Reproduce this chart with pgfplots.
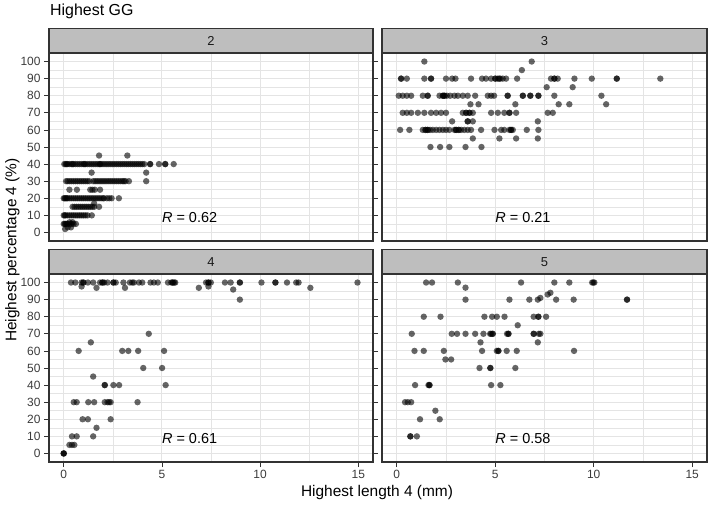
\documentclass[border=0pt]{standalone}
\usepackage{pgfplots}
\pgfplotsset{compat=1.18}
\usepackage{fontspec}
\setmainfont{Liberation Sans}
\definecolor{stripgray}{RGB}{190,190,190}
\definecolor{bordergray}{RGB}{51,51,51}
\definecolor{gridgray}{RGB}{228,228,228}
\definecolor{ticktext}{RGB}{60,60,60}
\pgfplotsset{
 panel/.style={
  scale only axis, width=324bp, height=188bp,
  xmin=-0.75, xmax=15.75, ymin=-5, ymax=105,
  xtick={0,5,10,15}, ytick={0,10,...,100},
  minor xtick={2.5,7.5,12.5}, minor ytick={5,15,...,95},
  grid=both,
  major grid style={draw=gridgray, line width=0.9bp},
  minor grid style={draw=gridgray, line width=0.5bp},
  axis line style={draw=bordergray, line width=1.1bp},
  tick align=outside, major tick length=5bp, minor tick length=0pt,
  tick style={draw=bordergray, line width=0.8bp},
  ticklabel style={font=\fontsize{12}{13}\selectfont, text=ticktext},
  /pgf/number format/assume math mode=true,
  clip=false,
 },
 pts/.style={only marks, mark=*, mark size=3.2bp, draw=none, fill=black, mark options={draw=none, draw opacity=0, fill=black, fill opacity=0.6}},
 nox/.style={xticklabels={}, xtick style={draw=none}},
 noy/.style={yticklabels={}, ytick style={draw=none}},
}
\newcommand{\strip}[1]{%
  \draw[fill=stripgray, draw=bordergray, line width=1.1bp] (rel axis cs:0,1) rectangle ([yshift=24.5bp]rel axis cs:1,1);
  \node[font=\fontsize{13}{14}\selectfont, text=black!90] at ([yshift=12.25bp]rel axis cs:0.5,1) {#1};
}
\newcommand{\rlab}[1]{\node[anchor=west, inner sep=0pt, font=\fontsize{14.5}{16}\selectfont] at (axis cs:5,9) {\textit{R} = #1};}
\begin{document}
\begin{tikzpicture}
\useasboundingbox (0,0) rectangle (709bp,505bp);
% ---- panel 2 ----
\begin{axis}[panel, nox, at={(49bp,264bp)}, anchor=south west]
\addplot[pts] coordinates {
(1.8,45) (3.24,45)
(0.03,40) (0.1,40) (0.15,40) (0.2,40) (0.3,40) (0.4,40) (0.45,40) (0.5,40) (0.6,40) (0.7,40) (0.8,40) (0.9,40) (1.0,40) (1.05,40) (1.1,40) (1.2,40) (1.3,40) (1.4,40) (1.5,40) (1.6,40) (1.7,40) (1.8,40) (1.85,40) (1.9,40) (2.0,40) (2.1,40) (2.2,40) (2.3,40) (2.4,40) (2.5,40) (2.6,40) (2.7,40) (2.8,40) (2.9,40) (3.0,40) (3.1,40) (3.2,40) (3.3,40) (3.4,40) (3.5,40) (3.6,40) (3.7,40) (3.8,40) (3.9,40) (4.0,40) (4.1,40) (4.4,40) (4.4,40) (4.85,40) (5.17,40) (5.17,40) (5.6,40)
(1.42,35) (4.2,35)
(0.12,30) (0.2,30) (0.3,30) (0.4,30) (0.5,30) (0.6,30) (0.7,30) (0.8,30) (0.9,30) (1.0,30) (1.1,30) (1.2,30) (1.3,30) (1.5,30) (1.6,30) (1.7,30) (1.8,30) (1.9,30) (2.0,30) (2.1,30) (2.2,30) (2.3,30) (2.4,30) (2.5,30) (2.6,30) (2.7,30) (2.8,30) (2.9,30) (3.0,30) (3.07,30) (3.15,30) (3.32,30) (4.2,30)
(0.29,25) (0.67,25) (1.35,25) (1.46,25) (1.58,25) (1.85,25)
(0,20) (0.05,20) (0.1,20) (0.15,20) (0.2,20) (0.3,20) (0.4,20) (0.5,20) (0.6,20) (0.7,20) (0.8,20) (0.9,20) (1.0,20) (1.1,20) (1.2,20) (1.3,20) (1.4,20) (1.5,20) (1.6,20) (1.7,20) (1.8,20) (1.9,20) (2.0,20) (2.05,20) (2.2,20) (2.32,20) (2.44,20) (2.81,20)
(1.55,17)
(0.45,15) (0.55,15) (0.65,15) (0.75,15) (0.85,15) (0.95,15) (1.05,15) (1.15,15) (1.25,15) (1.35,15) (1.45,15) (1.55,15) (1.8,15)
(0,10) (0.05,10) (0.1,10) (0.2,10) (0.3,10) (0.4,10) (0.5,10) (0.6,10) (0.7,10) (0.8,10) (0.9,10) (1.0,10) (1.1,10) (1.21,10) (1.43,10)
(0,5) (0.05,5) (0.1,5) (0.15,5) (0.2,5) (0.3,5) (0.4,5) (0.5,5) (0.62,5) (0.3,6) (0.45,6)
(0.07,2) (0.2,3) (0.37,3)
};
\strip{2}
\rlab{0.62}
\end{axis}
% ---- panel 3 ----
\begin{axis}[panel, nox, noy, width=325bp, at={(382bp,264bp)}, anchor=south west]
\addplot[pts] coordinates {
(1.4,100) (6.85,100) (6.35,95)
(0.22,90) (0.22,90) (0.51,90) (1.40,90) (1.74,90) (1.74,90) (2.50,90) (2.81,90) (2.98,90) (3.77,90) (4.33,90) (4.53,90) (4.79,90) (5.0,90) (5.0,90) (5.13,90) (5.2,90) (5.25,90) (5.38,90) (5.55,90) (6.11,90) (7.83,90) (8.0,90) (8.0,90) (8.17,90) (9.02,90) (9.9,90) (11.17,90) (11.17,90) (13.38,90)
(7.61,85) (8.93,85)
(0.1,80) (0.3,80) (0.51,80) (0.73,80) (1.32,80) (1.57,80) (1.57,80) (2.17,80) (2.34,80) (2.34,80) (2.42,80) (2.42,80) (2.54,80) (2.71,80) (2.93,80) (3.1,80) (3.35,80) (3.6,80) (3.98,80) (4.62,80) (4.79,80) (4.94,80) (5.63,80) (5.63,80) (6.4,80) (6.4,80) (6.78,80) (6.78,80) (7.19,80) (7.19,80) (8.0,80) (10.39,80)
(3.74,75) (4.15,75) (6.02,75) (8.22,75) (8.76,75) (10.63,75)
(0.3,70) (0.51,70) (0.73,70) (1.07,70) (1.4,70) (1.74,70) (2.0,70) (2.25,70) (2.5,70) (3.35,70) (3.52,70) (3.52,70) (3.69,70) (3.69,70) (3.86,70) (4.79,70) (5.13,70) (5.46,70) (5.72,70) (5.72,70) (6.06,70) (7.66,70) (7.92,70)
(2.81,65) (3.6,65) (3.6,65) (3.86,65) (7.16,65)
(0.17,60) (0.64,60) (1.32,60) (1.46,60) (1.46,60) (1.57,60) (1.57,60) (1.69,60) (1.83,60) (2.0,60) (2.17,60) (2.34,60) (2.5,60) (2.67,60) (2.93,60) (3.01,60) (3.01,60) (3.15,60) (3.15,60) (3.27,60) (3.43,60) (3.6,60) (3.77,60) (4.28,60) (4.96,60) (5.3,60) (5.46,60) (5.72,60) (5.8,60) (5.8,60) (5.89,60) (6.6,60) (7.19,60)
(3.86,55) (5.21,55) (6.06,55) (7.16,55)
(1.71,50) (2.2,50) (2.67,50) (3.49,50) (4.3,50)
};
\strip{3}
\rlab{0.21}
\end{axis}
% ---- panel 4 ----
\begin{axis}[panel, at={(49bp,43bp)}, anchor=south west]
\addplot[pts] coordinates {
(0.37,100) (0.59,100) (0.91,100) (1.0,100) (1.0,100) (1.23,100) (1.5,100) (1.85,100) (1.97,100) (1.97,100) (2.06,100) (2.23,100) (2.53,100) (2.53,100) (2.65,100) (3.04,100) (3.37,100) (3.49,100) (3.57,100) (3.83,100) (4.0,100) (4.42,100) (4.59,100) (4.79,100) (5.31,100) (5.48,100) (5.55,100) (5.55,100) (5.63,100) (5.68,100) (7.25,100) (7.37,100) (7.37,100) (7.49,100) (8.21,100) (8.5,100) (8.97,100) (8.97,100) (10.07,100) (10.78,100) (10.78,100) (11.37,100) (11.84,100) (11.96,100) (14.96,100)
(0.91,97.7) (1.67,96.9) (3.12,96.9) (6.88,96.9) (7.37,97.7) (8.63,95.9) (12.56,96.9)
(8.97,90) (4.33,70) (1.38,65)
(0.76,60) (2.98,60) (3.29,60) (3.79,60) (5.11,60)
(4.05,50) (5.01,50) (1.5,45)
(2.09,40) (2.09,40) (2.53,40) (2.82,40) (5.19,40)
(0.51,30) (0.66,30) (1.25,30) (1.55,30) (2.09,30) (2.23,30) (2.31,30) (2.39,30) (3.76,30)
(0.96,20) (1.23,20) (2.39,20) (1.67,15)
(0.42,10) (0.66,10) (1.5,10)
(0.29,5) (0.42,5) (0.54,5)
(0,0) (0,0) (0,0)
};
\strip{4}
\rlab{0.61}
\end{axis}
% ---- panel 5 ----
\begin{axis}[panel, noy, width=325bp, at={(382bp,43bp)}, anchor=south west]
\addplot[pts] coordinates {
(1.49,100) (1.79,100) (3.1,100) (6.31,100) (8.0,100) (8.76,100) (9.92,100) (9.98,100) (10.03,100)
(3.49,97) (7.66,93) (7.8,94) (7.29,91)
(3.49,90) (5.72,90) (6.73,90) (7.16,90) (8.09,90) (8.98,90) (11.69,90) (11.69,90)
(1.37,80) (2.22,80) (4.45,80) (4.84,80) (5.08,80) (5.47,80) (6.95,80) (7.19,80) (7.19,80) (7.58,80)
(6.14,75)
(0.76,70) (2.79,70) (3.06,70) (3.49,70) (3.98,70) (4.4,70) (4.74,70) (4.79,70) (4.87,70) (4.87,70) (5.6,70) (5.67,70) (5.67,70) (6.95,70) (6.95,70) (7.21,70) (7.29,70)
(4.25,65) (7.16,65)
(0.9,60) (1.37,60) (2.39,60) (4.33,60) (5.08,60) (5.16,60) (5.16,60) (5.58,60) (6.09,60) (9.0,60)
(2.47,55) (2.76,55)
(4.2,50) (4.75,50) (4.75,50) (6.02,50)
(0.93,40) (1.61,40) (1.66,40) (1.66,40) (4.79,40) (5.26,40)
(0.42,30) (0.56,30) (0.73,30)
(1.96,25) (1.18,20) (2.18,20)
(0.69,10) (0.69,10) (1.02,10)
};
\strip{5}
\rlab{0.58}
\end{axis}
\node[anchor=base west, inner sep=0pt, font=\fontsize{16}{18}\selectfont] at (50bp,489.5bp) {Highest GG};
\node[rotate=90, inner sep=0pt, font=\fontsize{15.5}{17}\selectfont] at (12.5bp,255bp) {Heighest percentage 4 (\%)};
\node[anchor=base, inner sep=0pt, font=\fontsize{15.5}{17}\selectfont] at (377bp,8.3bp) {Highest length 4 (mm)};
\end{tikzpicture}
\end{document}
